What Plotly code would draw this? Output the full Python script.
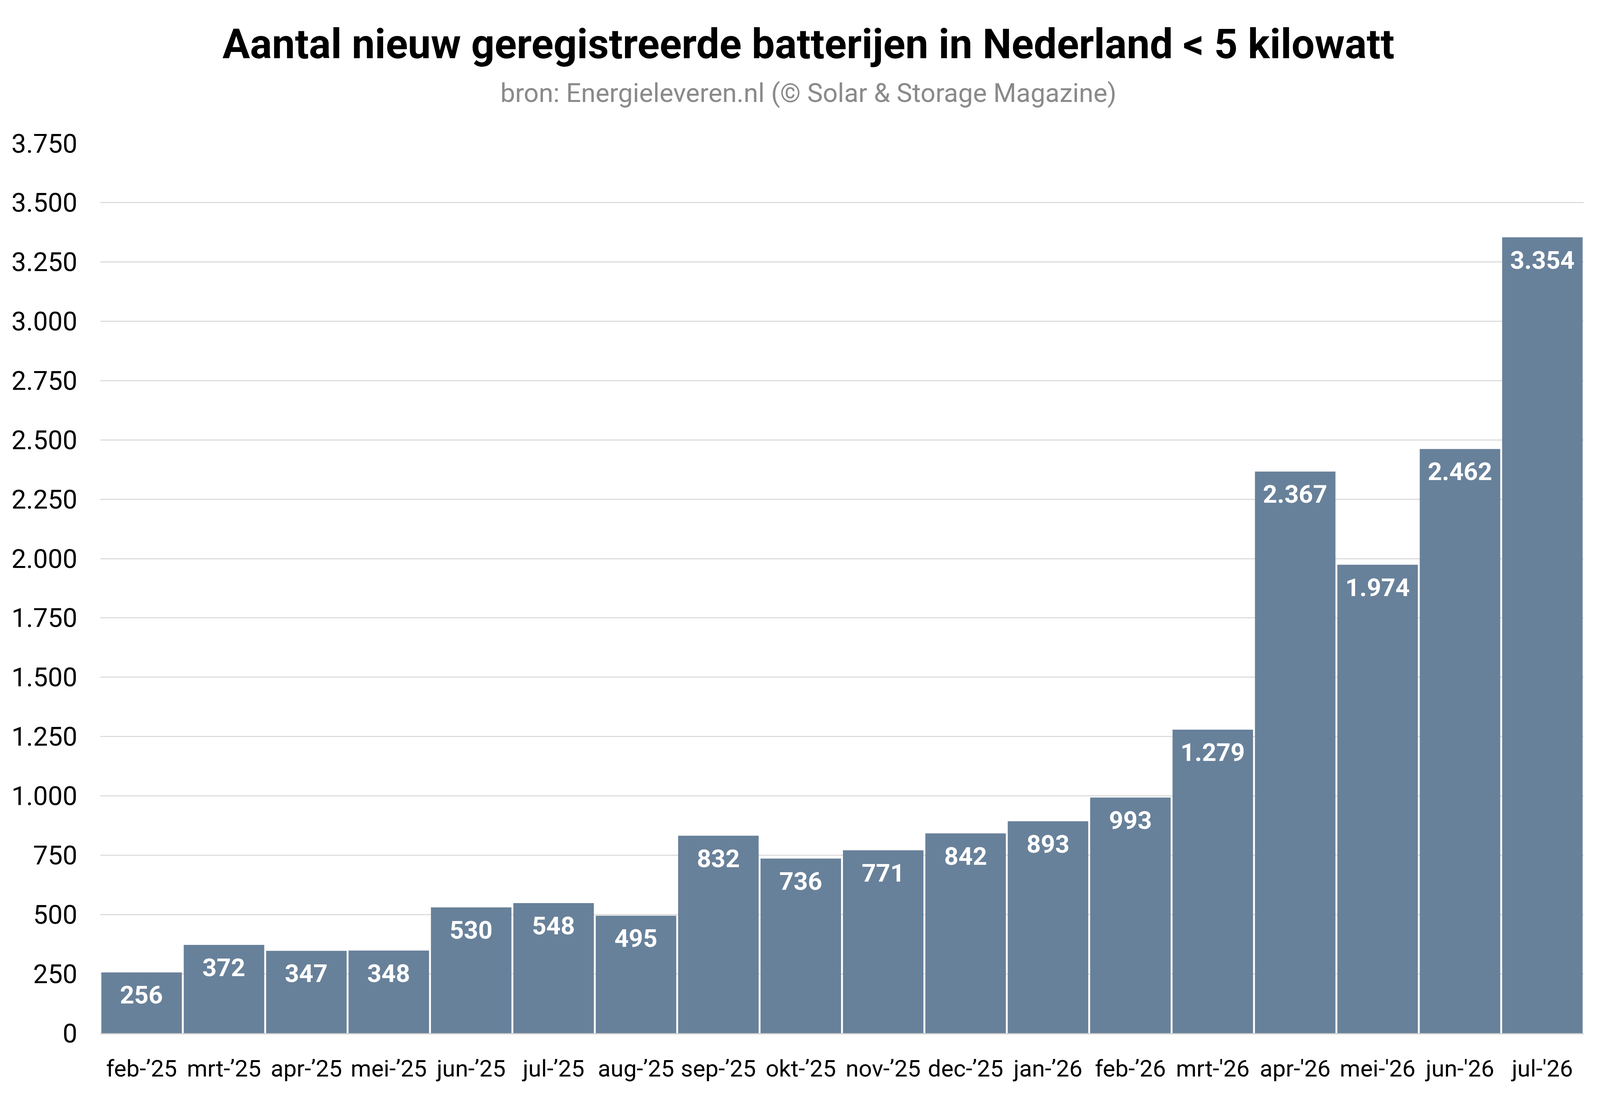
import plotly.graph_objects as go

maanden = ["feb-’25", "mrt-’25", "apr-’25", "mei-’25", "jun-’25", "jul-’25",
           "aug-’25", "sep-’25", "okt-’25", "nov-’25", "dec-’25", "jan-’26",
           "feb-’26", "mrt-'26", "apr-'26", "mei-'26", "jun-'26", "jul-'26"]
aantal = [256, 372, 347, 348, 530, 548, 495, 832, 736, 771, 842, 893,
          993, 1279, 2367, 1974, 2462, 3354]
yticks = [0, 250, 500, 750, 1000, 1250, 1500, 1750, 2000, 2250, 2500,
          2750, 3000, 3250, 3500, 3750]

# het browservenster is max 4096 px breed -> horizontaal schalen
W, H = 4096, 2811
sx = W / 4997
fs = 0.84          # fontschaal
bar_kleur = "#68819a"

top, bottom = 367, 2645   # plotgebied (px vanaf boven)

fig = go.Figure()
fig.add_trace(go.Bar(x=maanden, y=aantal, marker_color=bar_kleur,
                     marker_line_width=0, hoverinfo="x+y"))

# waardes in de balken (nl notatie)
for m, v in zip(maanden, aantal):
    fig.add_annotation(x=m, y=v, text=f"{v:,}".replace(",", "."),
                       showarrow=False, yanchor="top", yshift=-19,
                       font=dict(family="Roboto", size=76 * fs, color="white", weight="bold"))

fig.add_annotation(text="bron: Energieleveren.nl (© Solar & Storage Magazine)",
                   xref="paper", yref="paper", x=0.5,
                   y=(bottom - 238) / (bottom - top),
                   xanchor="center", yanchor="middle", showarrow=False,
                   xshift=(2525 - 2630) * sx,
                   font=dict(family="Roboto", size=80 * fs, color="#8a8a8a"))

fig.update_layout(
    width=W, height=H,
    title=dict(text="Aantal nieuw geregistreerde batterijen in Nederland < 5 kilowatt",
               x=2525 / 4997, xref="container", y=1 - 112 / H, yref="container",
               xanchor="center", yanchor="middle",
               font=dict(family="Roboto", size=125 * fs, color="black", weight="bold")),
    separators=",.",
    bargap=0.023,
    plot_bgcolor="white", paper_bgcolor="white",
    margin=dict(l=314 * sx, r=51 * sx, t=top, b=H - bottom, pad=0),
    showlegend=False,
    font=dict(family="Roboto", size=80 * fs, color="black"),
    xaxis=dict(type="category", range=[-0.5, 17.5], showgrid=False,
               ticks="", tickangle=0, ticklabelstandoff=36, showline=True,
               linecolor="#d0d0d0", linewidth=3,
               tickfont=dict(family="Roboto", size=60, color="black")),
    yaxis=dict(range=[0, 3750], tickvals=yticks, tickformat=",d",
               showgrid=True, gridcolor="#dddddd", gridwidth=3,
               zeroline=False, ticks="", ticklabelstandoff=58,
               tickfont=dict(family="Roboto", size=80 * fs, color="black")),
)

fig.write_html("out.html", config={"displayModeBar": False},
               post_script="document.body.style.margin='0';")
